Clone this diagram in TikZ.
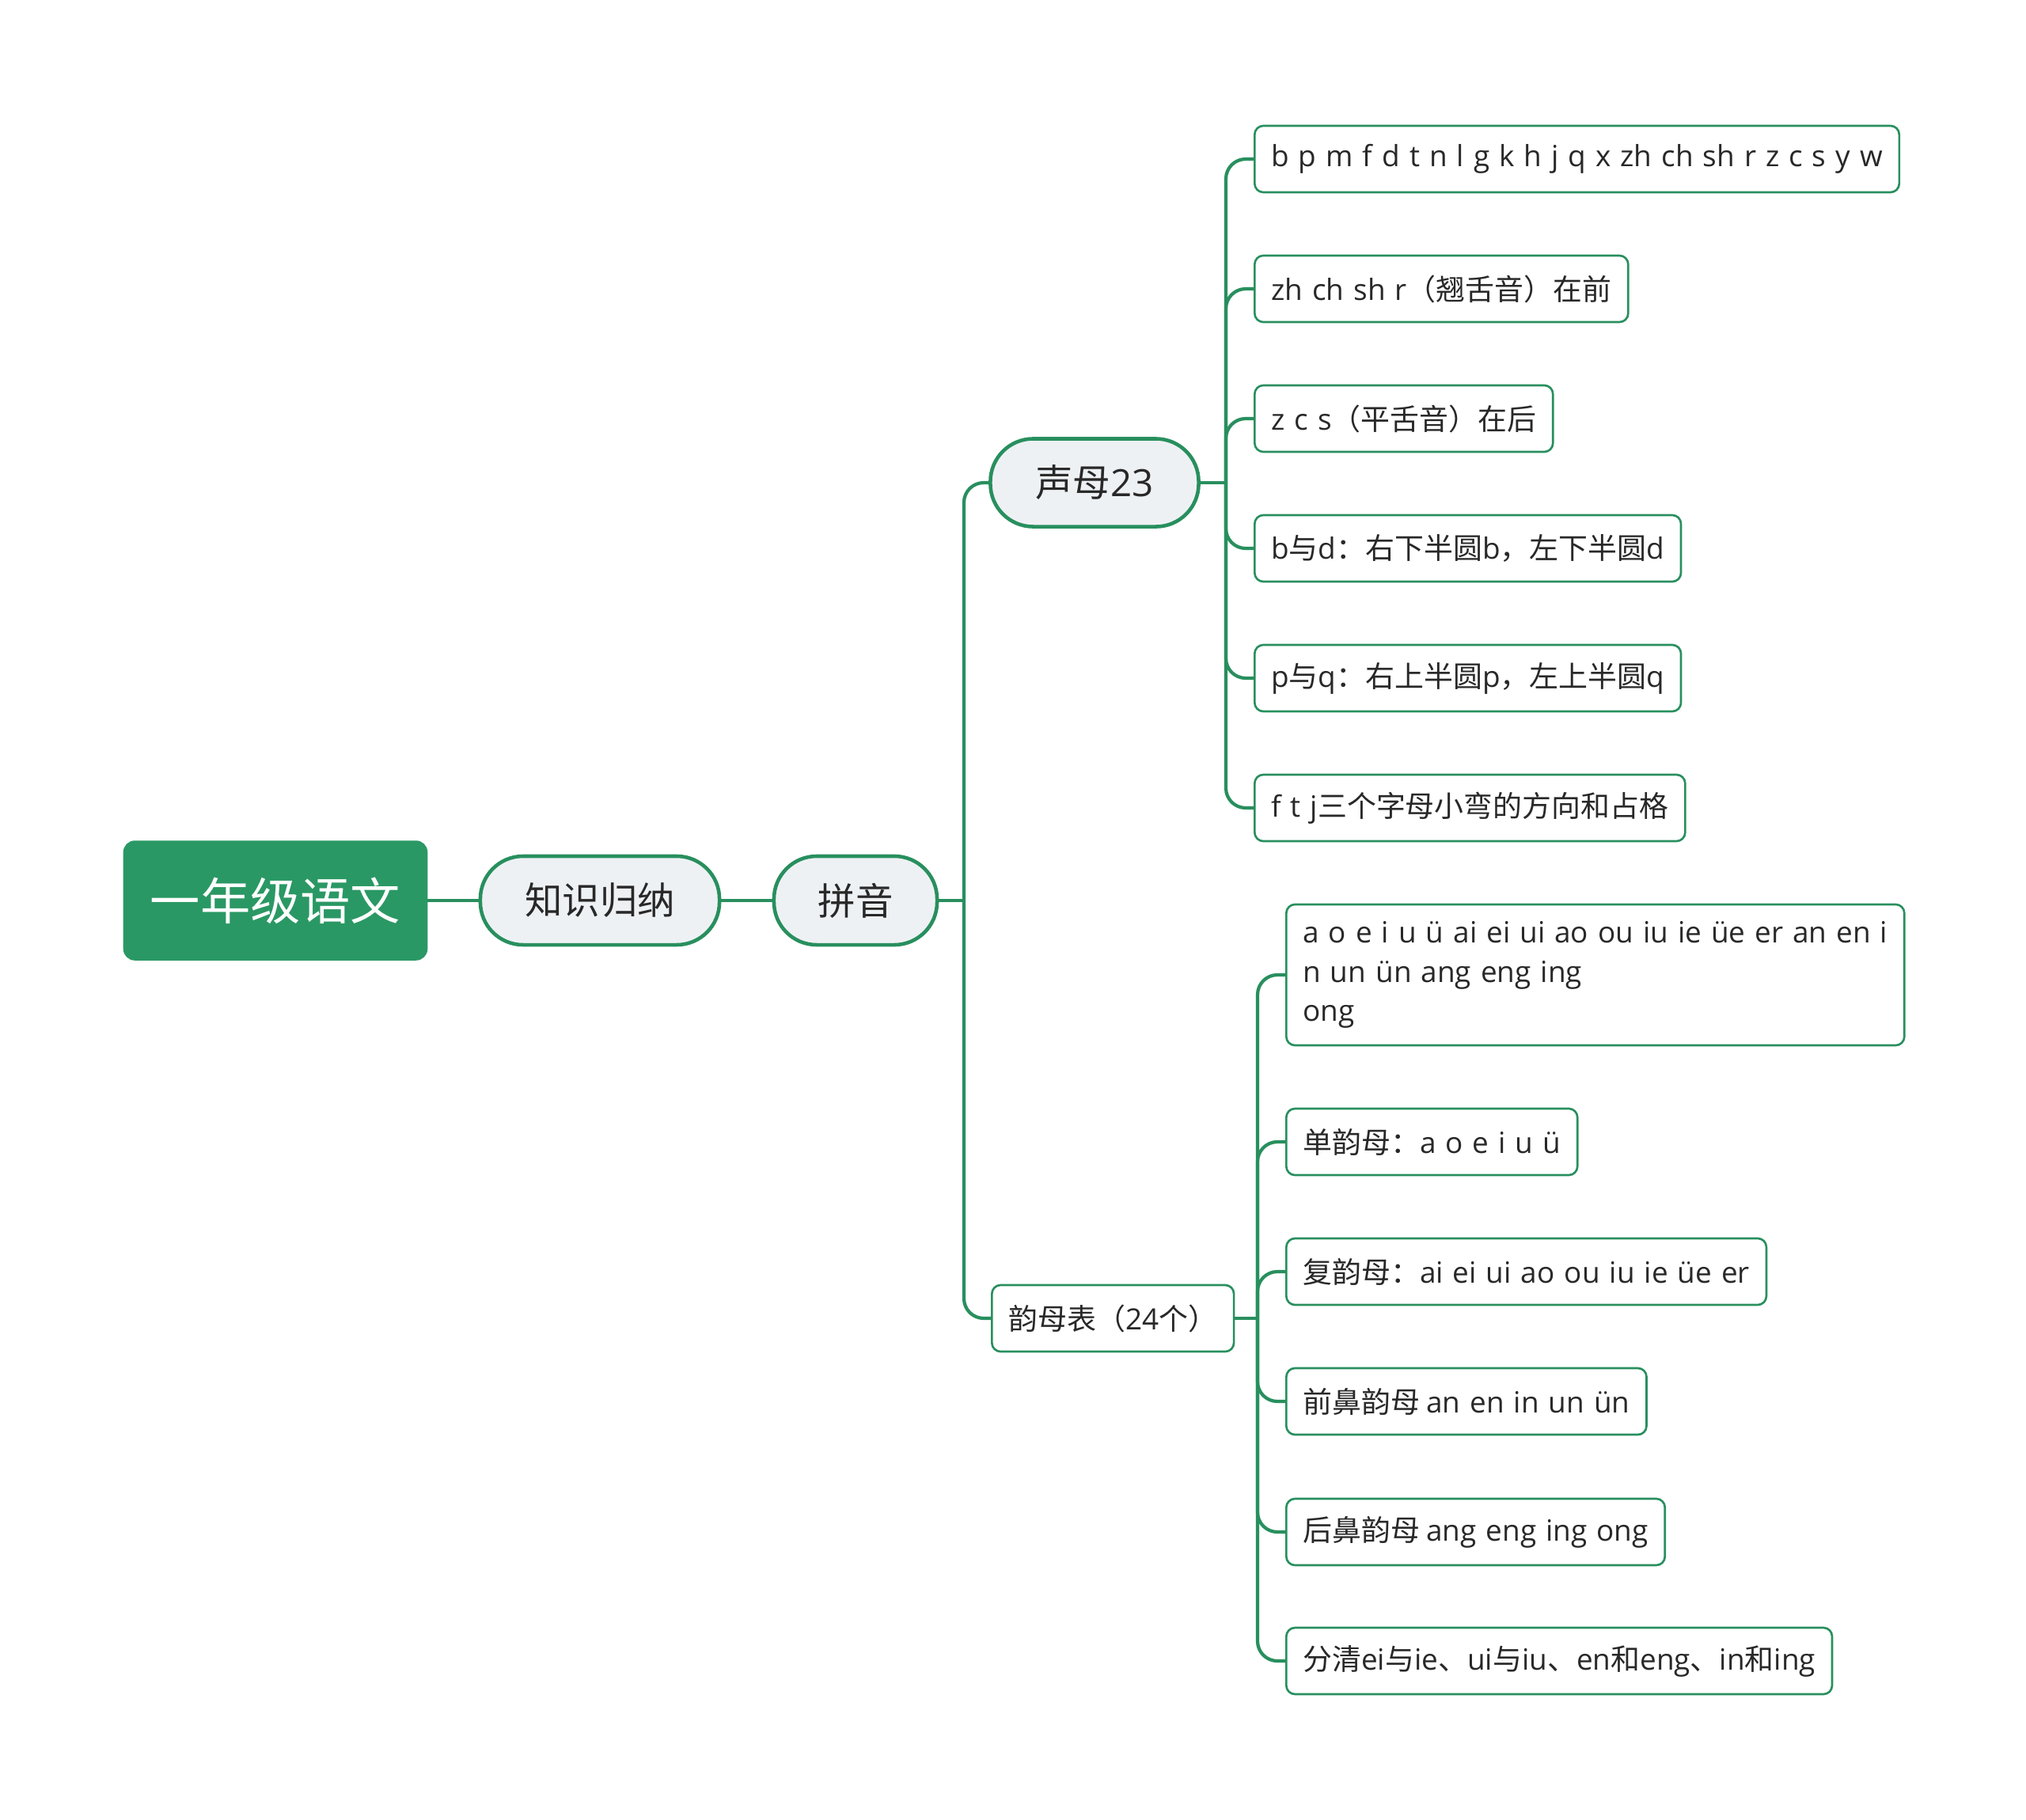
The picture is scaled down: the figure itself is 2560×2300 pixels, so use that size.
\documentclass[tikz,border=0pt]{standalone}
\usepackage{fontspec}
\setmainfont{Noto Sans CJK SC}
\newfontfamily\latinfont[WordSpace=1.25]{Open Sans}
\usepackage{tikz}
\definecolor{mapgreen}{RGB}{40,143,94}
\definecolor{rootgreen}{RGB}{42,152,100}
\definecolor{pillgray}{RGB}{238,241,244}
\definecolor{inkgray}{RGB}{40,40,40}
\newcommand{\pyin}[1]{{\latinfont #1}}

\begin{document}
\begin{tikzpicture}[x=0.01cm, y=-0.01cm,
    rootbox/.style={fill=rootgreen, draw=rootgreen, rounded corners=0.14cm, text=white, font=\fontsize{18}{22}\selectfont, minimum width=3.83cm, minimum height=1.5cm},
    pill/.style={draw=mapgreen, line width=1.3pt, fill=pillgray, rounded corners=0.54cm, text=inkgray, font=\fontsize{13.5}{16}\selectfont, minimum height=1.12cm},
    leaf/.style={draw=mapgreen, line width=0.75pt, fill=white, rounded corners=0.11cm, text=inkgray, font=\fontsize{10.5}{14}\selectfont, minimum height=0.84cm, inner xsep=0.21cm, anchor=west},
    trunkline/.style={draw=mapgreen, line width=1.2pt},
    twig/.style={trunkline, rounded corners=0.25cm}]
    \useasboundingbox (0,0) rectangle (2560,2300);

    \node[rootbox] (root) at (348,1138) {一年级语文};
    \node[pill, minimum width=3.02cm] (sum) at (758,1138) {知识归纳};
    \node[pill, minimum width=2.06cm] (py) at (1081,1138) {拼音};
    \node[pill, minimum width=2.63cm, minimum height=1.11cm] (sm) at (1383,610) {声母\pyin{23}};
    \node[leaf] (ym) at (1252,1666) {韵母表（\pyin{24}个）};

    \node[leaf] (s1) at (1584,201) {\pyin{b p m f d t n l g k h j q x zh ch sh r z c s y w}};
    \node[leaf] (s2) at (1584,365) {\pyin{zh ch sh r}（翘舌音）在前};
    \node[leaf] (s3) at (1584,529) {\pyin{z c s}（平舌音）在后};
    \node[leaf] (s4) at (1584,693) {\pyin{b}与\pyin{d}：右下半圆\pyin{b}，左下半圆\pyin{d}};
    \node[leaf] (s5) at (1584,857) {\pyin{p}与\pyin{q}：右上半圆\pyin{p}，左上半圆\pyin{q}};
    \node[leaf] (s6) at (1584,1021) {\pyin{f t j}三个字母小弯的方向和占格};

    \node[leaf, minimum height=1.78cm, align=left] (y1) at (1624,1232) {\pyin{a o e i u ü ai ei ui ao ou iu ie üe er an en i}\\\pyin{n un ün ang eng ing}\\\pyin{ong}};
    \node[leaf] (y2) at (1624,1443) {单韵母：\pyin{a o e i u ü}};
    \node[leaf] (y3) at (1624,1607) {复韵母：\pyin{ai ei ui ao ou iu ie üe er}};
    \node[leaf] (y4) at (1624,1771) {前鼻韵母 \pyin{an en in un ün}};
    \node[leaf] (y5) at (1624,1936) {后鼻韵母 \pyin{ang eng ing ong}};
    \node[leaf] (y6) at (1624,2099) {分清\pyin{ei}与\pyin{ie}、\pyin{ui}与\pyin{iu}、\pyin{en}和\pyin{eng}、\pyin{in}和\pyin{ing}};

    \coordinate (pyfork) at (1218,1138);
    \coordinate (smfork) at (1549,610);
    \coordinate (ymfork) at (1589,1666);

    \draw[trunkline] (root) -- (sum);
    \draw[trunkline] (sum) -- (py);
    \draw[trunkline] (py.east) -- (pyfork);
    \draw[twig] (pyfork) |- (sm.west);
    \draw[twig] (pyfork) |- (ym.west);

    \draw[trunkline] (sm.east) -- (smfork);
    \draw[twig] (smfork) |- (s1.west);
    \draw[twig] (smfork) |- (s2.west);
    \draw[twig] (smfork) |- (s3.west);
    \draw[twig] (smfork) |- (s4.west);
    \draw[twig] (smfork) |- (s5.west);
    \draw[twig] (smfork) |- (s6.west);

    \draw[trunkline] (ym.east) -- (ymfork);
    \draw[twig] (ymfork) |- (y1.west);
    \draw[twig] (ymfork) |- (y2.west);
    \draw[twig] (ymfork) |- (y3.west);
    \draw[twig] (ymfork) |- (y4.west);
    \draw[twig] (ymfork) |- (y5.west);
    \draw[twig] (ymfork) |- (y6.west);
\end{tikzpicture}
\end{document}
